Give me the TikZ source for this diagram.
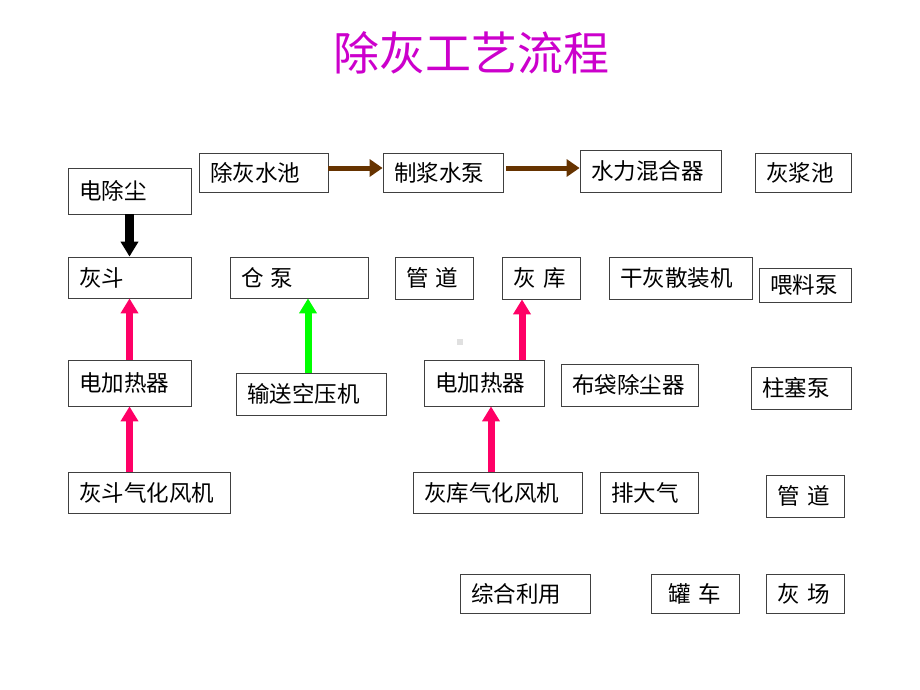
\documentclass[tikz,border=0pt]{standalone}
\usepackage{fontspec}
\setmainfont{Noto Sans CJK SC}
\usetikzlibrary{arrows.meta}
\definecolor{titlemag}{HTML}{CC00CC}
\definecolor{brownarr}{HTML}{663300}
\definecolor{pinkarr}{HTML}{FF0066}
\definecolor{greenarr}{HTML}{00FF00}
\tikzset{
  box/.style={draw=black!75, line width=0.8pt, inner xsep=11pt, inner ysep=0pt, align=left,
    font=\fontsize{22.5pt}{26pt}\selectfont},
  brownline/.style={draw=brownarr, line width=5pt, -{Triangle[width=17pt,length=13pt]}},
  pinkline/.style={draw=pinkarr, line width=7pt, -{Triangle[width=17pt,length=15pt]}},
  greenline/.style={draw=greenarr, line width=7pt, -{Triangle[width=17pt,length=15pt]}},
  blackline/.style={draw=black, line width=8.5pt, -{Triangle[width=17pt,length=15pt]}},
}
\begin{document}
\begin{tikzpicture}[x=1pt,y=-1pt]
\useasboundingbox[fill=white] (0,0) rectangle (920,690);
\node[text=titlemag, font=\fontsize{46pt}{52pt}\selectfont, inner sep=0pt] (title) at (471,53) {除灰工艺流程};

\node[box, minimum width=123pt, minimum height=46pt, text width=101pt] (dcc) at (129.5,191) {电除尘};
\node[box, minimum width=129pt, minimum height=39pt, text width=107pt] (chsc) at (263.5,172.5) {除灰水池};
\node[box, minimum width=120pt, minimum height=39pt, text width=98pt] (zjsb) at (443,172.5) {制浆水泵};
\node[box, minimum width=141pt, minimum height=42pt, text width=119pt] (slhh) at (650.5,171) {水力混合器};
\node[box, minimum width=96pt, minimum height=39pt, text width=74pt] (hjc) at (803,172.5) {灰浆池};

\node[box, minimum width=123pt, minimum height=41pt, text width=101pt] (hd) at (129.5,277.5) {灰斗};
\node[box, minimum width=138pt, minimum height=41pt, text width=116pt] (cb) at (299,277.5) {仓 泵};
\node[box, minimum width=78pt, minimum height=42pt, text width=56pt] (gd) at (434,278) {管 道};
\node[box, minimum width=78pt, minimum height=42pt, text width=56pt] (hk) at (541,278) {灰 库};
\node[box, minimum width=143pt, minimum height=42pt, text width=121pt] (ghs) at (680.5,278) {干灰散装机};
\node[box, minimum width=92pt, minimum height=34pt, text width=70pt] (wlb) at (805,285) {喂料泵};

\node[box, minimum width=123pt, minimum height=46pt, text width=101pt] (jrq1) at (129.5,383) {电加热器};
\node[box, minimum width=150pt, minimum height=42pt, text width=128pt] (sskj) at (311,394) {输送空压机};
\node[box, minimum width=120pt, minimum height=46pt, text width=98pt] (jrq2) at (484,383) {电加热器};
\node[box, minimum width=137pt, minimum height=42pt, text width=115pt] (bdcc) at (629.5,385) {布袋除尘器};
\node[box, minimum width=100pt, minimum height=42pt, text width=78pt] (zsb) at (801,388) {柱塞泵};

\node[box, minimum width=162pt, minimum height=41pt, text width=140pt] (hdfj) at (149,492.5) {灰斗气化风机};
\node[box, minimum width=169pt, minimum height=41pt, text width=147pt] (hkfj) at (497.5,492.5) {灰库气化风机};
\node[box, minimum width=98pt, minimum height=41pt, text width=76pt] (pdq) at (649,492.5) {排大气};
\node[box, minimum width=78pt, minimum height=42pt, text width=56pt] (gd2) at (805,496) {管 道};

\node[box, minimum width=130pt, minimum height=39pt, text width=108pt] (zhly) at (525,593.5) {综合利用};
\node[box, inner xsep=17pt, minimum width=88pt, minimum height=39pt, text width=54pt] (gc) at (695,593.5) {罐 车};
\node[box, minimum width=78pt, minimum height=39pt, text width=56pt] (hc) at (805,593.5) {灰 场};

\node[fill=black!12, minimum size=6pt, inner sep=0pt] (dot) at (460,342) {};

\coordinate (ybr) at (0,168);
\coordinate (xg) at (308,0);
\coordinate (xp1) at (522,0);
\coordinate (xp2) at (491,0);

\draw[blackline] (dcc.south) -- (hd.north);
\draw[brownline] (chsc.east |- ybr) -- (zjsb.west |- ybr);
\draw[brownline] ([xshift=3pt]zjsb.east |- ybr) -- (slhh.west |- ybr);
\draw[pinkline] (jrq1.north) -- (hd.south);
\draw[pinkline] (hdfj.north -| jrq1.north) -- (jrq1.south);
\draw[greenline] (xg |- sskj.north) -- (xg |- cb.south);
\draw[pinkline] (xp1 |- jrq2.north) -- (xp1 |- hk.south);
\draw[pinkline] (xp2 |- hkfj.north) -- (xp2 |- jrq2.south);
\end{tikzpicture}
\end{document}
